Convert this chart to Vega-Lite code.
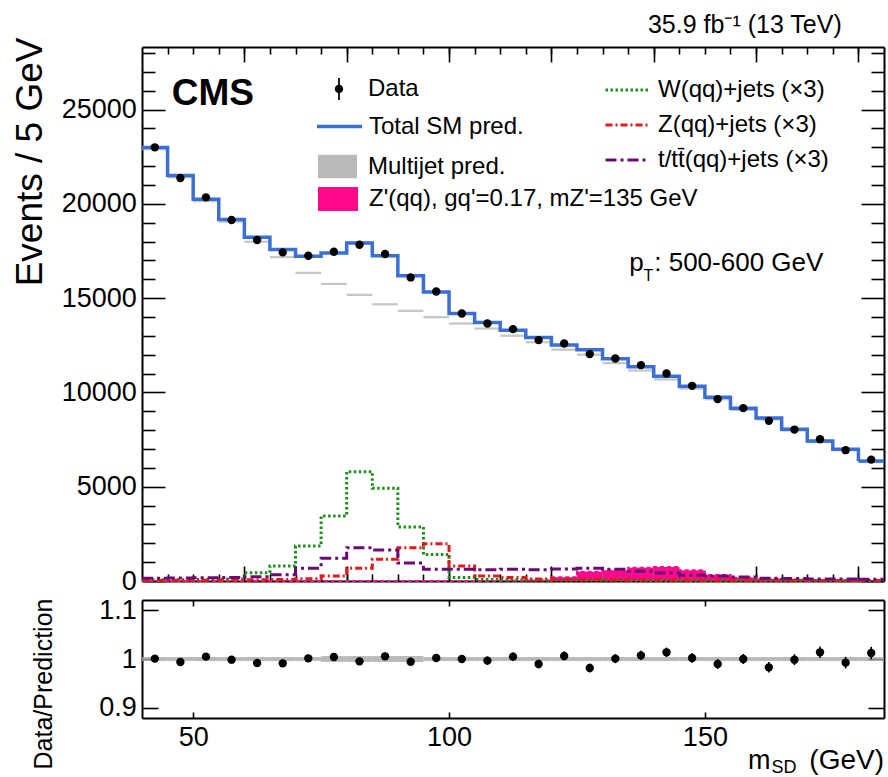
{
  "$schema": "https://vega.github.io/schema/vega-lite/v6.json",
  "background": "white",
  "padding": {"left": 11, "top": 12, "right": 2, "bottom": 0},
  "autosize": {"type": "pad"},
  "config": {
    "view": {"stroke": null},
    "font": "Liberation Sans",
    "axis": {"grid": false, "domainColor": "black", "domainWidth": 2, "tickColor": "black", "tickWidth": 1.6, "labelColor": "black", "titleColor": "black", "labelFont": "Liberation Sans", "titleFont": "Liberation Sans", "titleFontWeight": "normal", "labelFontSize": 27, "zindex": 1},
    "legend": {"labelFont": "Liberation Sans", "labelFontSize": 24, "labelColor": "black", "labelLimit": 600, "padding": 0, "offset": 0}
  },
  "datasets": {
    "bins": [
      {"lo":40,"hi":45,"x":42.5,"d":23000,"dlo":22848,"dhi":23152,"p":22984,"mj":22901,"mjlo":22841,"mjhi":22961,"w3":60,"z3":40,"top3":150,"sig":0,"r":1.0007,"rlo":0.9941,"rhi":1.0073,"blo":0.996,"bhi":1.004},
      {"lo":45,"hi":50,"x":47.5,"d":21375,"dlo":21229,"dhi":21521,"p":21508,"mj":21418,"mjlo":21358,"mjhi":21478,"w3":70,"z3":40,"top3":160,"sig":0,"r":0.9938,"rlo":0.987,"rhi":1.0006,"blo":0.996,"bhi":1.004},
      {"lo":50,"hi":55,"x":52.5,"d":20346,"dlo":20203,"dhi":20489,"p":20249,"mj":20152,"mjlo":20092,"mjhi":20212,"w3":80,"z3":40,"top3":170,"sig":0,"r":1.0048,"rlo":0.9978,"rhi":1.0118,"blo":0.996,"bhi":1.004},
      {"lo":55,"hi":60,"x":57.5,"d":19146,"dlo":19008,"dhi":19284,"p":19173,"mj":19060,"mjlo":19000,"mjhi":19120,"w3":100,"z3":50,"top3":190,"sig":0,"r":0.9986,"rlo":0.9914,"rhi":1.0058,"blo":0.996,"bhi":1.004},
      {"lo":60,"hi":65,"x":62.5,"d":18084,"dlo":17950,"dhi":18219,"p":18234,"mj":17991,"mjlo":17931,"mjhi":18051,"w3":440,"z3":60,"top3":230,"sig":0,"r":0.9918,"rlo":0.9844,"rhi":0.9992,"blo":0.996,"bhi":1.004},
      {"lo":65,"hi":70,"x":67.5,"d":17426,"dlo":17294,"dhi":17558,"p":17582,"mj":17179,"mjlo":17119,"mjhi":17239,"w3":800,"z3":80,"top3":330,"sig":0,"r":0.9911,"rlo":0.9836,"rhi":0.9986,"blo":0.996,"bhi":1.004},
      {"lo":70,"hi":75,"x":72.5,"d":17251,"dlo":17120,"dhi":17382,"p":17227,"mj":16339,"mjlo":16279,"mjhi":16399,"w3":1860,"z3":124,"top3":680,"sig":0,"r":1.0014,"rlo":0.9938,"rhi":1.009,"blo":0.996,"bhi":1.004},
      {"lo":75,"hi":80,"x":77.5,"d":17463,"dlo":17331,"dhi":17595,"p":17392,"mj":15754,"mjlo":15694,"mjhi":15814,"w3":3450,"z3":265,"top3":1200,"sig":0,"r":1.0041,"rlo":0.9965,"rhi":1.0117,"blo":0.994,"bhi":1.006},
      {"lo":80,"hi":85,"x":82.5,"d":17835,"dlo":17702,"dhi":17969,"p":17921,"mj":15174,"mjlo":15114,"mjhi":15234,"w3":5800,"z3":670,"top3":1770,"sig":0,"r":0.9952,"rlo":0.9878,"rhi":1.0026,"blo":0.994,"bhi":1.006},
      {"lo":85,"hi":90,"x":87.5,"d":17341,"dlo":17209,"dhi":17473,"p":17246,"mj":14673,"mjlo":14613,"mjhi":14733,"w3":4920,"z3":1150,"top3":1650,"sig":0,"r":1.0055,"rlo":0.9979,"rhi":1.0131,"blo":0.994,"bhi":1.006},
      {"lo":90,"hi":95,"x":92.5,"d":16099,"dlo":15972,"dhi":16226,"p":16188,"mj":14325,"mjlo":14265,"mjhi":14385,"w3":2870,"z3":1770,"top3":950,"sig":0,"r":0.9945,"rlo":0.9867,"rhi":1.0023,"blo":0.994,"bhi":1.006},
      {"lo":95,"hi":100,"x":97.5,"d":15356,"dlo":15232,"dhi":15480,"p":15325,"mj":13992,"mjlo":13932,"mjhi":14052,"w3":1400,"z3":1980,"top3":620,"sig":0,"r":1.002,"rlo":0.9939,"rhi":1.0101,"blo":0.996,"bhi":1.004},
      {"lo":100,"hi":105,"x":102.5,"d":14188,"dlo":14069,"dhi":14307,"p":14188,"mj":13655,"mjlo":13595,"mjhi":13715,"w3":180,"z3":800,"top3":620,"sig":0,"r":1.0,"rlo":0.9916,"rhi":1.0084,"blo":0.996,"bhi":1.004},
      {"lo":105,"hi":110,"x":107.5,"d":13657,"dlo":13540,"dhi":13774,"p":13704,"mj":13389,"mjlo":13329,"mjhi":13449,"w3":80,"z3":265,"top3":600,"sig":0,"r":0.9966,"rlo":0.9881,"rhi":1.0051,"blo":0.996,"bhi":1.004},
      {"lo":110,"hi":115,"x":112.5,"d":13360,"dlo":13244,"dhi":13476,"p":13296,"mj":13009,"mjlo":12949,"mjhi":13069,"w3":60,"z3":180,"top3":620,"sig":10,"r":1.0048,"rlo":0.9961,"rhi":1.0135,"blo":0.996,"bhi":1.004},
      {"lo":115,"hi":120,"x":117.5,"d":12776,"dlo":12663,"dhi":12889,"p":12909,"mj":12659,"mjlo":12599,"mjhi":12719,"w3":50,"z3":100,"top3":600,"sig":30,"r":0.9897,"rlo":0.9809,"rhi":0.9985,"blo":0.996,"bhi":1.004},
      {"lo":120,"hi":125,"x":122.5,"d":12596,"dlo":12484,"dhi":12708,"p":12518,"mj":12268,"mjlo":12208,"mjhi":12328,"w3":40,"z3":70,"top3":640,"sig":200,"r":1.0062,"rlo":0.9972,"rhi":1.0152,"blo":0.996,"bhi":1.004},
      {"lo":125,"hi":130,"x":127.5,"d":12033,"dlo":11923,"dhi":12143,"p":12260,"mj":12003,"mjlo":11943,"mjhi":12063,"w3":40,"z3":60,"top3":670,"sig":495,"r":0.9815,"rlo":0.9726,"rhi":0.9904,"blo":0.996,"bhi":1.004},
      {"lo":130,"hi":135,"x":132.5,"d":11800,"dlo":11691,"dhi":11909,"p":11792,"mj":11555,"mjlo":11495,"mjhi":11615,"w3":35,"z3":55,"top3":620,"sig":566,"r":1.0007,"rlo":0.9915,"rhi":1.0099,"blo":0.996,"bhi":1.004},
      {"lo":135,"hi":140,"x":137.5,"d":11449,"dlo":11342,"dhi":11556,"p":11364,"mj":11164,"mjlo":11104,"mjhi":11224,"w3":30,"z3":50,"top3":520,"sig":708,"r":1.0075,"rlo":0.9981,"rhi":1.0169,"blo":0.996,"bhi":1.004},
      {"lo":140,"hi":145,"x":142.5,"d":11003,"dlo":10898,"dhi":11108,"p":10854,"mj":10687,"mjlo":10627,"mjhi":10747,"w3":30,"z3":50,"top3":420,"sig":743,"r":1.0137,"rlo":1.004,"rhi":1.0234,"blo":0.996,"bhi":1.004},
      {"lo":145,"hi":150,"x":147.5,"d":10351,"dlo":10249,"dhi":10453,"p":10330,"mj":10205,"mjlo":10145,"mjhi":10265,"w3":30,"z3":45,"top3":300,"sig":566,"r":1.002,"rlo":0.9922,"rhi":1.0118,"blo":0.996,"bhi":1.004},
      {"lo":150,"hi":155,"x":152.5,"d":9645,"dlo":9547,"dhi":9743,"p":9745,"mj":9637,"mjlo":9577,"mjhi":9697,"w3":25,"z3":40,"top3":260,"sig":318,"r":0.9897,"rlo":0.9796,"rhi":0.9998,"blo":0.996,"bhi":1.004},
      {"lo":155,"hi":160,"x":157.5,"d":9167,"dlo":9071,"dhi":9263,"p":9167,"mj":9075,"mjlo":9015,"mjhi":9135,"w3":25,"z3":40,"top3":210,"sig":177,"r":1.0,"rlo":0.9896,"rhi":1.0104,"blo":0.996,"bhi":1.004},
      {"lo":160,"hi":165,"x":162.5,"d":8493,"dlo":8401,"dhi":8585,"p":8641,"mj":8573,"mjlo":8513,"mjhi":8633,"w3":20,"z3":35,"top3":150,"sig":124,"r":0.9829,"rlo":0.9722,"rhi":0.9936,"blo":0.996,"bhi":1.004},
      {"lo":165,"hi":170,"x":167.5,"d":8031,"dlo":7941,"dhi":8121,"p":8042,"mj":7980,"mjlo":7920,"mjhi":8040,"w3":20,"z3":35,"top3":130,"sig":80,"r":0.9986,"rlo":0.9875,"rhi":1.0097,"blo":0.996,"bhi":1.004},
      {"lo":170,"hi":175,"x":172.5,"d":7521,"dlo":7434,"dhi":7608,"p":7419,"mj":7366,"mjlo":7306,"mjhi":7426,"w3":20,"z3":30,"top3":110,"sig":50,"r":1.0137,"rlo":1.002,"rhi":1.0254,"blo":0.996,"bhi":1.004},
      {"lo":175,"hi":180,"x":177.5,"d":6938,"dlo":6855,"dhi":7021,"p":6990,"mj":6940,"mjlo":6880,"mjhi":7000,"w3":20,"z3":30,"top3":100,"sig":30,"r":0.9925,"rlo":0.9806,"rhi":1.0044,"blo":0.996,"bhi":1.004},
      {"lo":180,"hi":185,"x":182.5,"d":6439,"dlo":6359,"dhi":6519,"p":6361,"mj":6314,"mjlo":6254,"mjhi":6374,"w3":20,"z3":30,"top3":90,"sig":20,"r":1.0123,"rlo":0.9997,"rhi":1.0249,"blo":0.996,"bhi":1.004}
    ]
  },
  "spacing": 19,
  "bounds": "flush",
  "vconcat": [
    {
      "width": 742,
      "height": 534,
      "data": {"name": "bins"},
      "resolve": {"scale": {"color": "independent", "strokeDash": "independent"}, "axis": {"x": "independent", "y": "independent"}},
      "layer": [
        {
          "mark": {"type": "rect", "opacity": 0.65},
          "encoding": {
            "x": {"field": "lo", "type": "quantitative", "scale": {"domain": [40, 185], "nice": false, "zero": false},
                  "axis": {"orient": "bottom", "values": [60, 80, 100, 120, 140, 160, 180], "labels": false, "tickSize": -15, "title": null}},
            "x2": {"field": "hi"},
            "y": {"field": "mjlo", "type": "quantitative", "scale": {"domain": [0, 28320], "nice": false, "zero": false},
                  "axis": {"orient": "left", "values": [0, 5000, 10000, 15000, 20000, 25000], "format": "d", "tickSize": -23, "labelPadding": 28.6, "labelFlush": false, "labelOverlap": false, "title": "Events / 5 GeV", "titleFontSize": 37, "titleAnchor": "end", "titleY": -10, "titlePadding": 12}},
            "y2": {"field": "mjhi"},
            "color": {"datum": "Multijet pred.", "scale": {"range": ["#a8a8a8"]},
                      "legend": {"orient": "none", "legendX": 176, "legendY": 100, "title": null, "symbolType": "M-1,-0.6H1V0.6H-1Z", "symbolSize": 1521, "symbolStrokeWidth": 0, "symbolOpacity": 0.8, "labelOffset": 11}}
          }
        },
        {
          "mark": {"type": "rect"},
          "encoding": {
            "x": {"field": "lo", "type": "quantitative",
                  "axis": {"orient": "bottom", "values": [45, 50, 55, 60, 65, 70, 75, 80, 85, 90, 95, 100, 105, 110, 115, 120, 125, 130, 135, 140, 145, 150, 155, 160, 165, 170, 175, 180], "labels": false, "domain": false, "tickSize": -7, "title": null}},
            "x2": {"field": "hi"},
            "y": {"field": "sig", "type": "quantitative",
                  "axis": {"orient": "left", "values": [1000, 2000, 3000, 4000, 6000, 7000, 8000, 9000, 11000, 12000, 13000, 14000, 16000, 17000, 18000, 19000, 21000, 22000, 23000, 24000, 26000, 27000, 28000], "labels": false, "domain": false, "tickSize": -13, "title": null}},
            "y2": {"datum": 0},
            "color": {"datum": "Z'(qq), gq'=0.17, mZ'=135 GeV", "scale": {"range": ["#ff0a8a"]},
                      "legend": {"orient": "none", "legendX": 176, "legendY": 132, "title": null, "symbolType": "M-1,-0.6H1V0.6H-1Z", "symbolSize": 1600, "symbolStrokeWidth": 0, "labelOffset": 11}}
          }
        },
        {
          "mark": {"type": "line", "interpolate": "step-after", "color": "#ff0a8a", "strokeDash": [4, 3], "strokeWidth": 2},
          "encoding": {
            "x": {"field": "lo", "type": "quantitative", "axis": null},
            "y": {"field": "sig", "type": "quantitative", "axis": null}
          }
        },
        {
          "transform": [{"fold": ["w3", "z3", "top3"], "as": ["proc", "val"]}],
          "mark": {"type": "line", "interpolate": "step-after", "strokeWidth": 3},
          "encoding": {
            "x": {"field": "lo", "type": "quantitative", "axis": null},
            "y": {"field": "val", "type": "quantitative", "axis": null},
            "color": {"field": "proc", "type": "nominal", "scale": {"domain": ["w3", "z3", "top3"], "range": ["#1b8f1b", "#e41a1a", "#6a0a78"]},
                      "legend": {"orient": "none", "legendX": 462, "legendY": 20, "title": null, "symbolType": "stroke", "symbolSize": 1849, "symbolStrokeWidth": 3, "labelOffset": 8, "rowPadding": -9,
                                 "labelExpr": "datum.value === 'w3' ? 'W(qq)+jets (×3)' : datum.value === 'z3' ? 'Z(qq)+jets (×3)' : 't/tt̄(qq)+jets (×3)'"}},
            "strokeDash": {"field": "proc", "type": "nominal", "scale": {"domain": ["w3", "z3", "top3"], "range": [[2.5, 2.5], [7, 3, 2, 3], [11, 4, 3, 4]]},
                      "legend": {"orient": "none", "legendX": 462, "legendY": 20, "title": null, "symbolType": "stroke", "symbolSize": 1849, "symbolStrokeWidth": 3, "labelOffset": 8, "rowPadding": -9,
                                 "labelExpr": "datum.value === 'w3' ? 'W(qq)+jets (×3)' : datum.value === 'z3' ? 'Z(qq)+jets (×3)' : 't/tt̄(qq)+jets (×3)'"}}
          }
        },
        {
          "transform": [{"filter": "datum.lo === 180"}, {"fold": ["w3", "z3", "top3"], "as": ["proc", "val"]}],
          "mark": {"type": "rule", "strokeWidth": 3},
          "encoding": {
            "x": {"field": "lo", "type": "quantitative", "axis": null},
            "x2": {"field": "hi"},
            "y": {"field": "val", "type": "quantitative", "axis": null},
            "color": {"field": "proc", "type": "nominal", "scale": {"domain": ["w3", "z3", "top3"], "range": ["#1b8f1b", "#e41a1a", "#6a0a78"]}, "legend": null},
            "strokeDash": {"field": "proc", "type": "nominal", "scale": {"domain": ["w3", "z3", "top3"], "range": [[2.5, 2.5], [7, 3, 2, 3], [11, 4, 3, 4]]}, "legend": null}
          }
        },
        {
          "mark": {"type": "line", "interpolate": "step-after", "strokeWidth": 3.5},
          "encoding": {
            "x": {"field": "lo", "type": "quantitative",
                  "axis": {"orient": "top", "values": [60, 80, 100, 120, 140, 160, 180], "labels": false, "tickSize": -15, "title": null}},
            "y": {"field": "p", "type": "quantitative",
                  "axis": {"orient": "right", "values": [0, 5000, 10000, 15000, 20000, 25000], "labels": false, "tickSize": -23, "title": null}},
            "color": {"datum": "Total SM pred.", "scale": {"range": ["#3b6fd6"]},
                      "legend": {"orient": "none", "legendX": 173, "legendY": 55, "title": null, "symbolType": "stroke", "symbolSize": 2025, "symbolStrokeWidth": 3.5, "labelOffset": 5}}
          }
        },
        {
          "transform": [{"filter": "datum.lo === 180"}],
          "mark": {"type": "rule", "color": "#3b6fd6", "strokeWidth": 3.5},
          "encoding": {
            "x": {"field": "lo", "type": "quantitative", "axis": null},
            "x2": {"field": "hi"},
            "y": {"field": "p", "type": "quantitative", "axis": null}
          }
        },
        {
          "mark": {"type": "rule", "color": "black", "strokeWidth": 1.6},
          "encoding": {
            "x": {"field": "x", "type": "quantitative",
                  "axis": {"orient": "top", "values": [45, 50, 55, 60, 65, 70, 75, 80, 85, 90, 95, 100, 105, 110, 115, 120, 125, 130, 135, 140, 145, 150, 155, 160, 165, 170, 175, 180], "labels": false, "domain": false, "tickSize": -7, "title": null}},
            "y": {"field": "dlo", "type": "quantitative",
                  "axis": {"orient": "right", "values": [1000, 2000, 3000, 4000, 6000, 7000, 8000, 9000, 11000, 12000, 13000, 14000, 16000, 17000, 18000, 19000, 21000, 22000, 23000, 24000, 26000, 27000, 28000], "labels": false, "domain": false, "tickSize": -13, "title": null}},
            "y2": {"field": "dhi"}
          }
        },
        {
          "mark": {"type": "circle", "size": 70, "opacity": 1},
          "encoding": {
            "x": {"field": "x", "type": "quantitative", "axis": null},
            "y": {"field": "d", "type": "quantitative", "axis": null},
            "color": {"datum": "Data", "scale": {"range": ["black"]},
                      "legend": {"orient": "none", "legendX": 185, "legendY": 30, "title": null, "symbolType": "M-0.08,-1H0.08V1H-0.08Z M-0.38,0A0.38,0.38 0 1,1 0.38,0A0.38,0.38 0 1,1 -0.38,0Z", "symbolSize": 484, "symbolStrokeWidth": 0, "labelOffset": 17}}
          }
        },
        {
          "data": {"values": [{}]},
          "mark": {"type": "text", "text": "35.9 fb⁻¹ (13 TeV)", "font": "Liberation Sans", "fontSize": 25, "align": "right", "baseline": "alphabetic", "color": "black"},
          "encoding": {
            "x": {"datum": 176.74, "type": "quantitative", "axis": null},
            "y": {"datum": 29066, "type": "quantitative", "axis": null}
          }
        },
        {
          "data": {"values": [{}]},
          "mark": {"type": "text", "text": "CMS", "font": "Liberation Sans", "fontWeight": "bold", "fontSize": 37, "align": "left", "baseline": "alphabetic", "color": "black"},
          "encoding": {
            "x": {"datum": 45.8, "type": "quantitative", "axis": null},
            "y": {"datum": 25228, "type": "quantitative", "axis": null}
          }
        },
        {
          "data": {"values": [{}]},
          "mark": {"type": "text", "text": "p", "font": "Liberation Sans", "fontSize": 26, "align": "left", "baseline": "alphabetic", "color": "black"},
          "encoding": {
            "x": {"datum": 135.2, "type": "quantitative", "axis": null},
            "y": {"datum": 16442, "type": "quantitative", "axis": null}
          }
        },
        {
          "data": {"values": [{}]},
          "mark": {"type": "text", "text": "T", "font": "Liberation Sans", "fontSize": 16, "align": "left", "baseline": "alphabetic", "color": "black"},
          "encoding": {
            "x": {"datum": 138.0, "type": "quantitative", "axis": null},
            "y": {"datum": 15912, "type": "quantitative", "axis": null}
          }
        },
        {
          "data": {"values": [{}]},
          "mark": {"type": "text", "text": ": 500-600 GeV", "font": "Liberation Sans", "fontSize": 26, "align": "left", "baseline": "alphabetic", "color": "black"},
          "encoding": {
            "x": {"datum": 140.1, "type": "quantitative", "axis": null},
            "y": {"datum": 16442, "type": "quantitative", "axis": null}
          }
        }
      ]
    },
    {
      "width": 742,
      "height": 118,
      "data": {"name": "bins"},
      "resolve": {"axis": {"x": "independent", "y": "independent"}},
      "layer": [
        {
          "mark": {"type": "rect", "color": "#a8a8a8", "opacity": 0.8},
          "encoding": {
            "x": {"field": "lo", "type": "quantitative", "scale": {"domain": [40, 185], "nice": false, "zero": false},
                  "axis": {"orient": "bottom", "values": [50, 100, 150], "tickSize": -6, "labelPadding": 12, "labelFlush": false, "title": null}},
            "x2": {"field": "hi"},
            "y": {"field": "blo", "type": "quantitative", "scale": {"domain": [0.879, 1.121], "nice": false, "zero": false},
                  "axis": {"orient": "left", "values": [0.9, 1, 1.1], "format": "~g", "tickSize": -16, "labelPadding": 21.6, "labelFlush": false, "labelOverlap": false, "title": "Data/Prediction", "titleFontSize": 25, "titleAnchor": "end", "titleY": -2, "titlePadding": 42}},
            "y2": {"field": "bhi"}
          }
        },
        {
          "mark": {"type": "rule", "color": "black", "strokeWidth": 1.6},
          "encoding": {
            "x": {"field": "x", "type": "quantitative",
                  "axis": {"orient": "top", "values": [50, 100, 150], "labels": false, "tickSize": -6, "title": null}},
            "y": {"field": "rlo", "type": "quantitative",
                  "axis": {"orient": "right", "values": [0.9, 1, 1.1], "labels": false, "tickSize": -16, "title": null}},
            "y2": {"field": "rhi"}
          }
        },
        {
          "mark": {"type": "circle", "color": "black", "size": 70, "opacity": 1},
          "encoding": {
            "x": {"field": "x", "type": "quantitative", "axis": null},
            "y": {"field": "r", "type": "quantitative", "axis": null}
          }
        },
        {
          "data": {"values": [{}]},
          "mark": {"type": "text", "text": "m", "font": "Liberation Sans", "fontSize": 27, "align": "left", "baseline": "alphabetic", "color": "black"},
          "encoding": {
            "x": {"datum": 158.43, "type": "quantitative", "axis": null},
            "y": {"datum": 0.7744, "type": "quantitative", "axis": null}
          }
        },
        {
          "data": {"values": [{}]},
          "mark": {"type": "text", "text": "SD", "font": "Liberation Sans", "fontSize": 18, "align": "left", "baseline": "alphabetic", "color": "black"},
          "encoding": {
            "x": {"datum": 163.0, "type": "quantitative", "axis": null},
            "y": {"datum": 0.766, "type": "quantitative", "axis": null}
          }
        },
        {
          "data": {"values": [{}]},
          "mark": {"type": "text", "text": "(GeV)", "font": "Liberation Sans", "fontSize": 28, "align": "right", "baseline": "alphabetic", "color": "black"},
          "encoding": {
            "x": {"datum": 185, "type": "quantitative", "axis": null},
            "y": {"datum": 0.7744, "type": "quantitative", "axis": null}
          }
        }
      ]
    }
  ]
}
